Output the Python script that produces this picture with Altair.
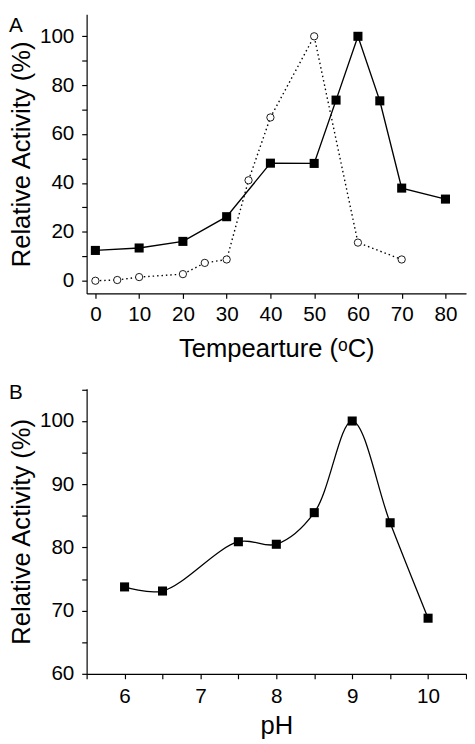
import altair as alt
import pandas as pd

# Panel A: temperature
temp_sq = [0, 10, 20, 30, 40, 50, 55, 60, 65, 70, 80]
act_sq = [12.4, 13.4, 16.1, 26.2, 48.1, 48.0, 73.9, 100, 73.6, 37.9, 33.4]
temp_ci = [0, 5, 10, 20, 25, 30, 35, 40, 50, 60, 70]
act_ci = [0.0, 0.3, 1.5, 2.7, 7.3, 8.7, 41.1, 66.8, 100, 15.6, 8.7]

# Panel B: pH
ph = [6, 6.5, 7.5, 8, 8.5, 9, 9.5, 10]
act_ph = [73.75, 73.1, 80.9, 80.5, 85.5, 100, 83.9, 68.8]

FONT = "Liberation Sans"
LFS = 21

dfA_sq = pd.DataFrame({"t": temp_sq, "a": act_sq})
dfA_ci = pd.DataFrame({"t": temp_ci, "a": act_ci})
dfB = pd.DataFrame({"p": ph, "a": act_ph})

W = 386

yaxA = alt.Axis(values=list(range(0, 110, 10)),
                labelExpr="datum.value % 20 == 0 ? '' + datum.value : ''",
                title="Relative Activity (%)", grid=False, labelFontSize=LFS)
xaxA = alt.Axis(values=list(range(0, 90, 10)), title="Tempearture (ᵒC)", grid=False,
                labelFontSize=LFS, labelExpr="'' + datum.value", labelPadding=6, titlePadding=11)

xA = alt.X("t:Q", scale=alt.Scale(domain=[-2, 84.7], nice=False, zero=False), axis=xaxA)
yA = alt.Y("a:Q", scale=alt.Scale(domain=[-5.2, 109], nice=False, zero=False), axis=yaxA)

ci_line = alt.Chart(dfA_ci).mark_line(color="black", strokeWidth=1.4, strokeDash=[1.5, 3]).encode(x=xA, y=yA)
ci_pts = alt.Chart(dfA_ci).mark_point(shape="circle", size=55, filled=True, fill="white",
                                      stroke="black", strokeWidth=0.9, opacity=1).encode(x=xA, y=yA)
sq_line = alt.Chart(dfA_sq).mark_line(color="black", strokeWidth=1.4).encode(x=xA, y=yA)
sq_pts = alt.Chart(dfA_sq).mark_point(shape="square", size=85, filled=True, color="black", opacity=1).encode(x=xA, y=yA)
labA = alt.Chart(pd.DataFrame({"s": ["A"]})).mark_text(
    font=FONT, fontSize=21, align="left", baseline="top", color="black"
).encode(x=alt.value(-79), y=alt.value(1), text="s:N")

chartA = alt.layer(ci_line, ci_pts, sq_line, sq_pts, labA).properties(width=W, height=284)

yaxB = alt.Axis(values=list(range(60, 106, 5)),
                labelExpr="datum.value % 10 == 0 ? '' + datum.value : ''",
                title="Relative Activity (%)", grid=False, labelFontSize=LFS)
xaxB = alt.Axis(values=[5.5 + 0.5 * i for i in range(11)],
                labelExpr="datum.value % 1 == 0 ? '' + datum.value : ''", title="pH", grid=False,
                labelFontSize=LFS, labelPadding=7, titlePadding=7)
xB = alt.X("p:Q", scale=alt.Scale(domain=[5.5, 10.5], nice=False, zero=False), axis=xaxB)
yB = alt.Y("a:Q", scale=alt.Scale(domain=[60, 105.1], nice=False, zero=False), axis=yaxB)

ph_line = alt.Chart(dfB).mark_line(color="black", strokeWidth=1.3, interpolate="catmull-rom").encode(x=xB, y=yB)
ph_pts = alt.Chart(dfB).mark_point(shape="square", size=85, filled=True, color="black", opacity=1).encode(x=xB, y=yB)
labB = alt.Chart(pd.DataFrame({"s": ["B"]})).mark_text(
    font=FONT, fontSize=21, align="left", baseline="top", color="black"
).encode(x=alt.value(-79), y=alt.value(-7), text="s:N")

chartB = alt.layer(ph_line, ph_pts, labB).properties(width=W, height=290)

chart = alt.vconcat(chartA, chartB, spacing=17).properties(padding=0).configure_view(
    stroke=None
).configure_axis(
    domainColor="black", domainWidth=1.2, tickColor="black", tickWidth=1.2, tickSize=5,
    labelFont=FONT, labelFontSize=LFS, labelColor="black",
    titleFont=FONT, titleFontSize=26, titleFontWeight="normal", titleColor="black",
    labelFlush=False, labelOverlap=False,
).configure_axisY(labelPadding=8, titlePadding=5)

chart.save("out.html", embed_options={"renderer": "svg", "actions": False})
